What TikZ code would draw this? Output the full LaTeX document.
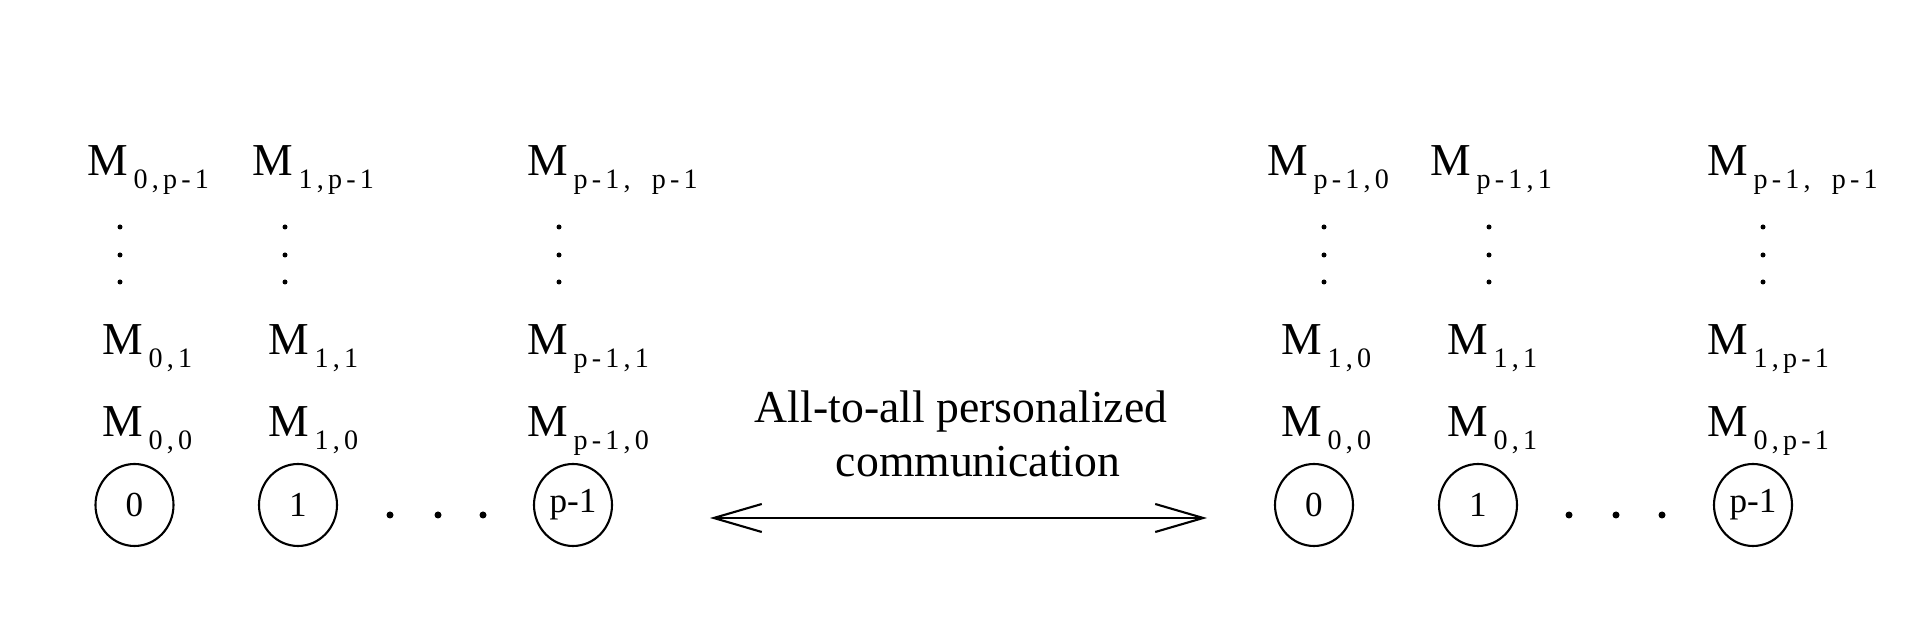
\documentclass[tikz,border=0pt]{standalone}
\usepackage{fontspec}
\setmainfont{Liberation Serif}
\newfontfamily\subfont[LetterSpace=15]{Liberation Serif}
\usetikzlibrary{arrows.meta, shapes.geometric}
\newcommand{\msub}[1]{M\kern1.5pt\raisebox{-3.7pt}{\subfont\fontsize{8}{9}\selectfont #1}}

\begin{document}
\begin{tikzpicture}[font=\fontsize{13}{15}\selectfont,
                proc/.style={draw, ellipse, line width=0.6pt, minimum width=0.78cm, minimum height=0.82cm,
                             inner sep=0pt, font=\fontsize{10}{12}\selectfont},
                msg/.style={anchor=base west, inner sep=0pt},
                exchange/.style={{Straight Barb[length=4.8mm, width=2.8mm]}-{Straight Barb[length=4.8mm, width=2.8mm]},
                                 line width=0.6pt}]
                \useasboundingbox (0,0) rectangle (19.22,6.18);

                % Processes before the exchange
                \node[proc] (s0) at (1.345,1.13) {0};
                \node[proc] (s1) at (2.98,1.13) {1};
                \node[proc] (sp) at (5.73,1.13) {p-1};
                \fill (3.90,1.03) circle (0.035) (4.38,1.03) circle (0.035) (4.83,1.03) circle (0.035);

                % Messages held before the exchange
                \node[msg] (s0m0) at (1.02,1.81) {\msub{0,0}};
                \node[msg] (s0m1) at (1.02,2.63) {\msub{0,1}};
                \node[msg] (s0mp) at (0.87,4.42) {\msub{0,p-1}};
                \node[msg] (s1m0) at (2.68,1.81) {\msub{1,0}};
                \node[msg] (s1m1) at (2.68,2.63) {\msub{1,1}};
                \node[msg] (s1mp) at (2.52,4.42) {\msub{1,p-1}};
                \node[msg] (spm0) at (5.27,1.81) {\msub{p-1,0}};
                \node[msg] (spm1) at (5.27,2.63) {\msub{p-1,1}};
                \node[msg] (spmp) at (5.27,4.42) {\msub{p-1,\hspace{6pt}p-1}};
                \fill (1.20,3.91) circle (0.025) (1.20,3.63) circle (0.025) (1.20,3.36) circle (0.025);
                \fill (2.85,3.91) circle (0.025) (2.85,3.63) circle (0.025) (2.85,3.36) circle (0.025);
                \fill (5.59,3.91) circle (0.025) (5.59,3.63) circle (0.025) (5.59,3.36) circle (0.025);

                % Exchange
                \coordinate (left) at (7.10,1.00);
                \coordinate (right) at (12.07,1.00);
                \draw[exchange] (left) -- (right);
                \node[anchor=base] (txt1) at (9.61,1.95) {All-to-all personalized};
                \node[anchor=base] (txt2) at (9.78,1.41) {communication};

                % Processes after the exchange
                \node[proc] (d0) at (13.14,1.13) {0};
                \node[proc] (d1) at (14.78,1.13) {1};
                \node[proc] (dp) at (17.53,1.13) {p-1};
                \fill (15.69,1.03) circle (0.035) (16.16,1.03) circle (0.035) (16.62,1.03) circle (0.035);

                % Messages held after the exchange
                \node[msg] (d0m0) at (12.81,1.81) {\msub{0,0}};
                \node[msg] (d0m1) at (12.81,2.63) {\msub{1,0}};
                \node[msg] (d0mp) at (12.67,4.42) {\msub{p-1,0}};
                \node[msg] (d1m0) at (14.47,1.81) {\msub{0,1}};
                \node[msg] (d1m1) at (14.47,2.63) {\msub{1,1}};
                \node[msg] (d1mp) at (14.30,4.42) {\msub{p-1,1}};
                \node[msg] (dpm0) at (17.07,1.81) {\msub{0,p-1}};
                \node[msg] (dpm1) at (17.07,2.63) {\msub{1,p-1}};
                \node[msg] (dpmp) at (17.07,4.42) {\msub{p-1,\hspace{6pt}p-1}};
                \fill (13.24,3.91) circle (0.025) (13.24,3.63) circle (0.025) (13.24,3.36) circle (0.025);
                \fill (14.89,3.91) circle (0.025) (14.89,3.63) circle (0.025) (14.89,3.36) circle (0.025);
                \fill (17.63,3.91) circle (0.025) (17.63,3.63) circle (0.025) (17.63,3.36) circle (0.025);
            \end{tikzpicture}
\end{document}
